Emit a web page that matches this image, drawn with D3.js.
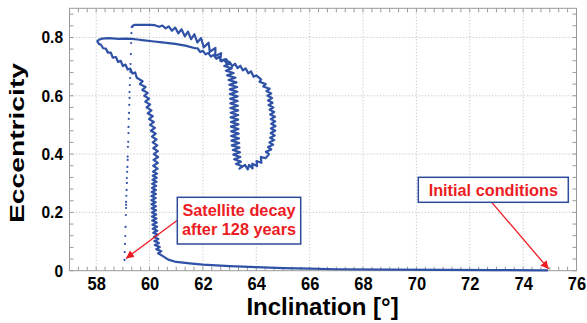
<!DOCTYPE html>
<html>
<head>
<meta charset="utf-8">
<script src="https://cdn.jsdelivr.net/npm/d3@7"></script>
<style>
  html, body { margin: 0; padding: 0; background: #fff; }
  svg { display: block; font-family: "Liberation Sans", Arial, sans-serif; }
</style>
</head>
<body>
<svg id="chart" width="587" height="323"></svg>
<script>
// [inclination deg, eccentricity], in time order
const bottomTrack = [[74.9,0.001],[73,0.002],[71,0.003],[69,0.004],[67,0.005],[66,0.007],[65,0.009],[64,0.012],[63,0.016],[62,0.021],[61.5,0.025],[61,0.03],[60.7,0.038],[60.5,0.05]]

const risingBranch = [[60.32,0.060],[60.44,0.067],[60.25,0.074],[60.38,0.081],[60.20,0.088],[60.35,0.095],[60.18,0.102],[60.33,0.109],[60.16,0.116],[60.31,0.123],[60.14,0.130],[60.29,0.137],[60.12,0.144],[60.28,0.151],[60.11,0.158],[60.27,0.165],[60.10,0.172],[60.26,0.179],[60.09,0.186],[60.25,0.193],[60.09,0.200],[60.24,0.207],[60.08,0.214],[60.24,0.221],[60.07,0.228],[60.23,0.235],[60.07,0.242],[60.23,0.249],[60.07,0.256],[60.24,0.263],[60.08,0.270],[60.24,0.277],[60.09,0.284],[60.25,0.291],[60.10,0.298],[60.26,0.305],[60.11,0.312],[60.27,0.319],[60.12,0.326],[60.28,0.333],[60.13,0.340],
  [60.30,0.350],[60.14,0.360],[60.31,0.370],[60.15,0.380],[60.32,0.390],[60.16,0.400],[60.31,0.410],[60.14,0.420],[60.29,0.430],[60.12,0.440],[60.26,0.450],[60.09,0.460],[60.23,0.470],[60.05,0.480],[60.20,0.490],[60.02,0.500],[60.16,0.510],[59.98,0.520],[60.12,0.530],[59.93,0.540],[60.07,0.550],[59.89,0.560],[60.02,0.570],[59.84,0.580],[59.98,0.590],[59.80,0.600],[59.93,0.610],[59.73,0.620],[59.85,0.630],[59.64,0.640],[59.74,0.650],
  [59.52,0.662],[59.46,0.680],[59.36,0.676],[59.28,0.693],[59.18,0.690],[59.10,0.707],[59.00,0.702],[58.92,0.720],[58.82,0.716],[58.74,0.733],[58.62,0.731],[58.55,0.748],[58.44,0.748],[58.36,0.762],[58.26,0.763],[58.18,0.775],[58.10,0.778],[58.04,0.787]]

const upperArc = [[58.10,0.792],[58.22,0.796],[58.47,0.798],[58.84,0.795],[59.10,0.796],[59.34,0.795],[59.55,0.793],[59.72,0.791],[60.09,0.787],[60.47,0.783],[60.96,0.778],[61.34,0.772],[61.71,0.763]]

const outerLoop = [[61.8,0.763],[61.9,0.750],[62.0,0.754],[62.1,0.742],[62.2,0.747],[62.3,0.734],[62.4,0.740],[62.5,0.727],[62.6,0.733],[62.7,0.718],[62.8,0.723],[62.9,0.709],[63.0,0.716],[63.1,0.701],[63.2,0.710],[63.3,0.695],[63.4,0.703],[63.5,0.687],[63.6,0.694],[63.7,0.677],[63.8,0.684],[63.9,0.665],[64.0,0.670],
  [64.18,0.656],[64.12,0.648],[64.35,0.640],[64.26,0.632],[64.50,0.624],[64.38,0.616],[64.56,0.608],[64.42,0.600],[64.59,0.592],[64.44,0.584],[64.61,0.576],[64.46,0.568],[64.64,0.560],[64.50,0.552],[64.67,0.544],[64.52,0.536],[64.70,0.528],[64.54,0.520],[64.71,0.512],[64.56,0.504],[64.72,0.496],[64.55,0.488],[64.71,0.480],[64.54,0.472],[64.69,0.464],[64.52,0.456],[64.67,0.448],[64.49,0.440],[64.63,0.432],[64.44,0.424],[64.56,0.416],[64.36,0.408],[64.48,0.400],
  [64.35,0.386],[64.17,0.390],[64.19,0.370],[64.01,0.376],[64.03,0.359],[63.85,0.367],[63.86,0.351],[63.73,0.363],[63.68,0.347],[63.58,0.363]]

const innerLoop = [[63.37,0.350],[63.48,0.358],[63.24,0.366],[63.42,0.374],[63.17,0.382],[63.40,0.390],[63.14,0.398],[63.39,0.406],[63.12,0.414],[63.37,0.422],[63.08,0.430],[63.36,0.438],[63.07,0.446],[63.35,0.454],[63.06,0.462],[63.34,0.470],[63.06,0.478],[63.33,0.486],[63.05,0.494],[63.33,0.502],[63.05,0.510],[63.32,0.518],[63.04,0.526],[63.32,0.534],[63.04,0.542],[63.32,0.550],[63.03,0.558],[63.31,0.566],[63.03,0.574],[63.30,0.582],[63.02,0.590],[63.30,0.598],[63.01,0.606],[63.29,0.614],[63.01,0.622],[63.28,0.630],[62.99,0.638],[63.26,0.646],[62.96,0.654],[63.22,0.662],[62.91,0.670],[63.15,0.678],[62.86,0.686],[63.08,0.694],[62.80,0.702],[63.00,0.710]]

const topReturn = [[62.86,0.726],[62.65,0.720],[62.68,0.746],[62.46,0.736],[62.47,0.764],[62.26,0.751],[62.21,0.782],[62.03,0.766],[61.93,0.798],[61.79,0.783],[61.68,0.811],[61.56,0.794],[61.44,0.820],[61.32,0.804],[61.20,0.828],[61.08,0.814],[60.96,0.834],[60.84,0.823],[60.72,0.838],[60.60,0.831],[60.48,0.841],[60.36,0.837],[60.20,0.842],[60.00,0.843],[59.70,0.843],[59.45,0.843],[59.38,0.841],[59.35,0.836]]

// sparse samples of the final plunge
const decayPoints = [[59.33,0.836],[59.32,0.815],[59.31,0.781],[59.30,0.743],[59.29,0.709],[59.28,0.682],[59.27,0.661],[59.26,0.637],[59.25,0.613],[59.25,0.593],[59.24,0.569],[59.23,0.541],[59.22,0.521],[59.21,0.493],[59.21,0.472],[59.20,0.442],[59.19,0.425],[59.18,0.391],[59.18,0.380],[59.17,0.356],[59.16,0.339],[59.15,0.318],[59.15,0.301],[59.14,0.277],[59.13,0.257],[59.12,0.236],[59.12,0.226],[59.12,0.215],[59.11,0.191],[59.10,0.150],[59.09,0.119],[59.08,0.092],[59.07,0.064],[59.06,0.037]]

const inclTicks = [58, 60, 62, 64, 66, 68, 70, 72, 74, 76]
const eccTicks = [0, 0.2, 0.4, 0.6, 0.8]
const initialPoint = [74.9, 0.001]
const decayPoint = [59.06, 0.037]

const C = {
  line: '#2f51a6',
  frame: '#9a9a9a',
  grid: '#c4c4c4',
  red: '#ec1c24',
  box: '#2e4a9a'
}

const svg = d3.select('#chart')
const x = d3.scaleLinear().domain([57, 76]).range([69.5, 576.5])
const y = d3.scaleLinear().domain([0, 0.9]).range([270.7, 8.3])
const [x0, x1] = x.range()
const [y0, y1] = y.range()

// Grid
const grid = svg.append('g')
grid.selectAll('line.gx')
  .data(inclTicks.filter(d => d < 76))
  .join('line')
  .attr('x1', d => x(d)).attr('x2', d => x(d))
  .attr('y1', y0).attr('y2', y1)
grid.selectAll('line.gy')
  .data(eccTicks.filter(d => d > 0))
  .join('line')
  .attr('class', 'gy')
  .attr('x1', x0).attr('x2', x1)
  .attr('y1', d => y(d)).attr('y2', d => y(d))
grid.selectAll('line')
  .attr('stroke', C.grid)
  .attr('stroke-width', 1)
  .attr('stroke-dasharray', '1.2,2')

// Inward ticks on all four sides
const xMinor = d3.range(57, 76.001, 1 / 3)
const yMinor = d3.range(0, 0.9001, 0.04)
const tickLen = 4
const ticks = svg.append('g').attr('stroke', C.frame).attr('stroke-width', 1)
xMinor.forEach(v => {
  ticks.append('line').attr('x1', x(v)).attr('x2', x(v)).attr('y1', y0).attr('y2', y0 - tickLen)
  ticks.append('line').attr('x1', x(v)).attr('x2', x(v)).attr('y1', y1).attr('y2', y1 + tickLen)
})
yMinor.forEach(v => {
  ticks.append('line').attr('x1', x0).attr('x2', x0 + tickLen).attr('y1', y(v)).attr('y2', y(v))
  ticks.append('line').attr('x1', x1).attr('x2', x1 - tickLen).attr('y1', y(v)).attr('y2', y(v))
})

// Frame
svg.append('rect')
  .attr('x', x0).attr('y', y1)
  .attr('width', x1 - x0).attr('height', y0 - y1)
  .attr('fill', 'none')
  .attr('stroke', C.frame)
  .attr('stroke-width', 1)

// Axis labels via d3 axes (ticks hidden, labels only)
const xAxis = svg.append('g')
  .attr('transform', `translate(0,${y0})`)
  .call(d3.axisBottom(x).tickValues(inclTicks).tickSize(0).tickPadding(5.2).tickFormat(d3.format('d')))
const yAxis = svg.append('g')
  .attr('transform', `translate(${x0},0)`)
  .call(d3.axisLeft(y).tickValues(eccTicks).tickSize(0).tickPadding(6.5).tickFormat(d => d === 0 ? '0' : d.toFixed(1)))
svg.selectAll('.domain').remove()
xAxis.selectAll('text')
  .attr('font-family', '"Liberation Sans", Arial, sans-serif')
  .attr('font-size', 16.5)
  .attr('font-weight', 'bold')
  .attr('fill', '#000')
  .attr('transform', 'scale(1,1.12)')
yAxis.selectAll('text')
  .attr('font-family', '"Liberation Sans", Arial, sans-serif')
  .attr('font-size', 15.5)
  .attr('font-weight', 'bold')
  .attr('fill', '#000')
  .attr('transform', 'scale(1,1.08)')

// Axis titles
svg.append('text')
  .attr('x', 322.5).attr('y', 315)
  .attr('text-anchor', 'middle')
  .attr('font-size', 24)
  .attr('font-weight', 'bold')
  .text('Inclination [°]')
svg.append('text')
  .attr('transform', 'translate(24,143) rotate(-90)')
  .attr('text-anchor', 'middle')
  .attr('font-size', 21)
  .attr('font-weight', 'bold')
  .attr('textLength', 160)
  .attr('lengthAdjust', 'spacingAndGlyphs')
  .text('Eccentricity')

// Trajectory
const track = [].concat(bottomTrack, risingBranch, upperArc, outerLoop, innerLoop, topReturn)
const line = d3.line().x(d => x(d[0])).y(d => y(d[1]))
svg.append('path')
  .datum(track)
  .attr('d', line)
  .attr('fill', 'none')
  .attr('stroke', C.line)
  .attr('stroke-width', 2.2)
  .attr('stroke-linejoin', 'round')
  .attr('stroke-linecap', 'round')

svg.append('g').selectAll('circle')
  .data(decayPoints)
  .join('circle')
  .attr('cx', d => x(d[0]))
  .attr('cy', d => y(d[1]))
  .attr('r', 1.1)
  .attr('fill', C.line)

// Annotations
const defs = svg.append('defs')
defs.append('marker')
  .attr('id', 'arrow')
  .attr('viewBox', '0 0 10 10')
  .attr('refX', 10).attr('refY', 5)
  .attr('markerWidth', 8).attr('markerHeight', 8)
  .attr('markerUnits', 'userSpaceOnUse')
  .attr('orient', 'auto')
  .append('path')
  .attr('d', 'M0,0L10,5L0,10z')
  .attr('fill', C.red)

function callout(box, lines, from, target) {
  const tip = [x(target[0]) + 1.5, y(target[1]) - 1.5]
  svg.append('line')
    .attr('x1', from[0]).attr('y1', from[1])
    .attr('x2', tip[0]).attr('y2', tip[1])
    .attr('stroke', C.red)
    .attr('stroke-width', 1.3)
    .attr('marker-end', 'url(#arrow)')
  svg.append('rect')
    .attr('x', box.x).attr('y', box.y)
    .attr('width', box.w).attr('height', box.h)
    .attr('fill', '#fff')
    .attr('stroke', C.box)
    .attr('stroke-width', 1.5)
  const label = svg.append('text')
    .attr('text-anchor', 'middle')
    .attr('font-size', 16.3)
    .attr('font-weight', 'bold')
    .attr('fill', C.red)
  label.selectAll('tspan')
    .data(lines)
    .join('tspan')
    .attr('x', box.x + box.w / 2)
    .attr('y', (d, i) => box.base + i * 18.6)
    .text(d => d)
}

callout({ x: 177.3, y: 197.3, w: 123.4, h: 46.7, base: 216.3 },
  ['Satellite decay', 'after 128 years'], [177, 220.5], decayPoint)
callout({ x: 418.3, y: 177.3, w: 150, h: 25, base: 195.7 },
  ['Initial conditions'], [491.7, 202.3], initialPoint)
</script>
</body>
</html>
